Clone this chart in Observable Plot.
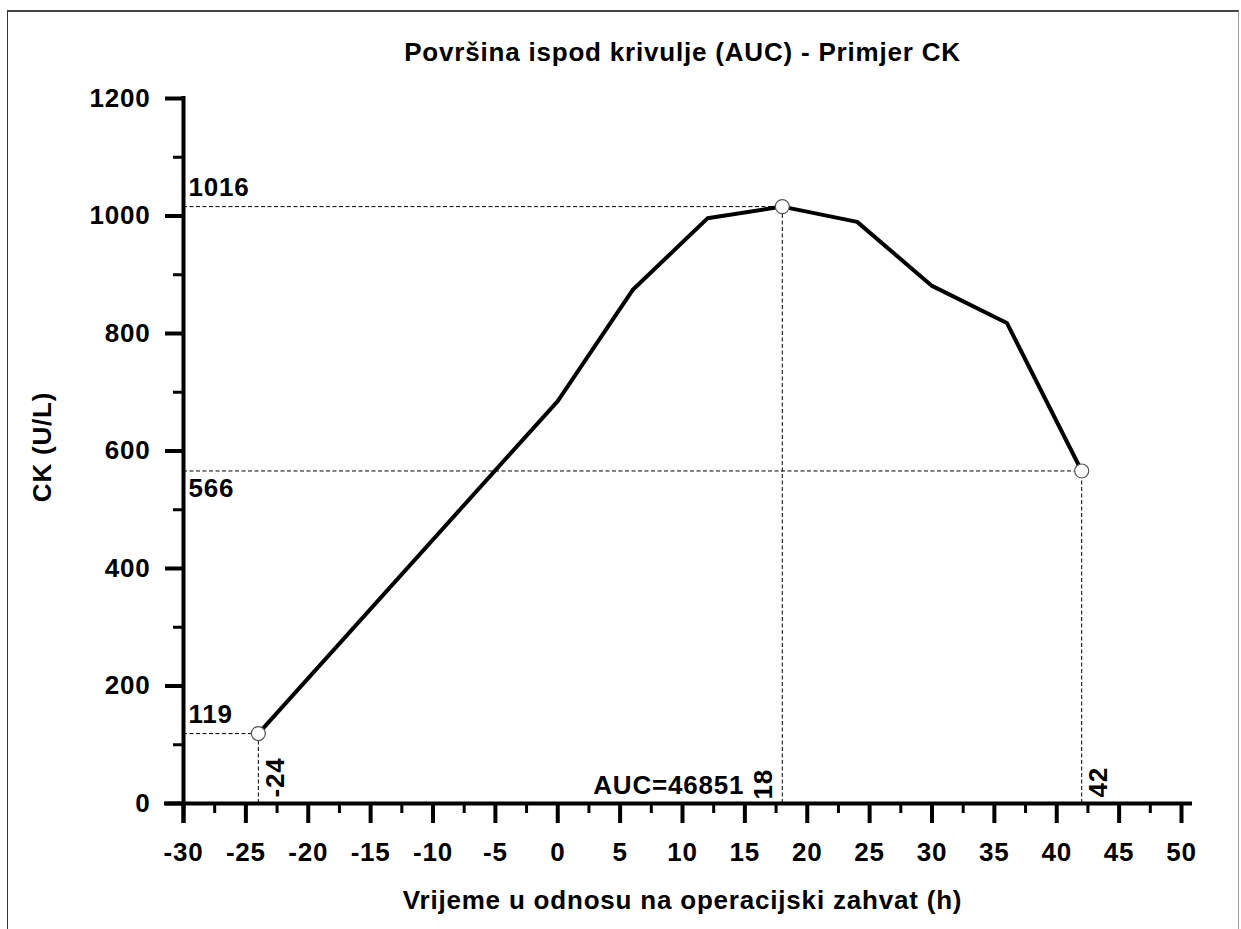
<!DOCTYPE html>
<html>
<head>
<meta charset="utf-8">
<script src="https://cdn.jsdelivr.net/npm/d3@7"></script>
<script src="https://cdn.jsdelivr.net/npm/@observablehq/plot@0.6"></script>
<style>
  html, body { margin: 0; padding: 0; background: #fff; width: 1241px; height: 929px; overflow: hidden; }
  #frame { position: absolute; left: 7px; top: 10px; width: 1232px; height: 1000px;
           border-top: 2px solid #444; border-left: 1px solid #333; border-right: 1px solid #999; box-sizing: border-box; }
  #chart { position: absolute; left: 0; top: 0; }
</style>
</head>
<body>
<div id="frame"></div>
<div id="chart"></div>
<script>
// ---- data ----
const times = [-24, 0, 6, 12, 18, 24, 30, 36, 42];
const ckValues = [119, 685, 874, 996, 1016, 990, 881, 818, 566];
const keyTimes = [-24, 18, 42];
const keyValues = [119, 1016, 566];
const keyTimeLabels = ["-24", "18", "42"];
const keyValueLabels = ["119", "1016", "566"];
const aucLabel = "AUC=46851";
const xMajorTicks = [-30, -25, -20, -15, -10, -5, 0, 5, 10, 15, 20, 25, 30, 35, 40, 45, 50];
const xMinorTicks = [-27.5, -22.5, -17.5, -12.5, -7.5, -2.5, 2.5, 7.5, 12.5, 17.5, 22.5, 27.5, 32.5, 37.5, 42.5, 47.5];
const yMajorTicks = [0, 200, 400, 600, 800, 1000, 1200];
const yMinorTicks = [100, 300, 500, 700, 900, 1100];
const titleText = "Površina ispod krivulje (AUC) - Primjer CK";
const xLabel = "Vrijeme u odnosu na operacijski zahvat (h)";
const yLabel = "CK (U/L)";

const series = times.map((t, i) => ({t, v: ckValues[i]}));
const keys = keyTimes.map((t, i) => ({t, v: keyValues[i], tl: keyTimeLabels[i], vl: keyValueLabels[i]}));

const dash = "4,2.5";
const plot = Plot.plot({
  width: 1241,
  height: 929,
  marginLeft: 183,
  marginRight: 60,
  marginTop: 98,
  marginBottom: 126,
  x: {domain: [-30, 50]},
  y: {domain: [0, 1200]},
  style: {
    fontFamily: "'Liberation Sans', Arial, sans-serif",
    fontSize: "26px",
    fontWeight: "bold",
    letterSpacing: "0.8px",
    background: "transparent",
    color: "#000",
    overflow: "visible"
  },
  marks: [
    // dashed reference lines
    Plot.ruleY(keys, {x1: -30, x2: "t", y: "v", stroke: "#000", strokeWidth: 1, strokeDasharray: dash}),
    Plot.ruleX(keys, {x: "t", y1: 0, y2: "v", stroke: "#000", strokeWidth: 1, strokeDasharray: dash}),
    // axes
    Plot.axisX(xMajorTicks, {tickSize: 20, tickPadding: 19, strokeWidth: 4, tickFormat: d => String(d), label: null}),
    Plot.axisX(xMinorTicks, {tickSize: 10, strokeWidth: 3, tickFormat: () => "", label: null}),
    Plot.axisY(yMajorTicks, {tickSize: 18, tickPadding: 15, strokeWidth: 4, tickFormat: d => String(d), label: null}),
    Plot.axisY(yMinorTicks, {tickSize: 10, strokeWidth: 3, tickFormat: () => "", label: null}),
    Plot.ruleX([-30], {y1: 1200, y2: 0, stroke: "#000", strokeWidth: 4, insetTop: -2, insetBottom: -20}),
    Plot.ruleY([0], {x1: -30, x2: 50, stroke: "#000", strokeWidth: 4, insetLeft: -19, insetRight: -11}),
    // curve
    Plot.line(series, {x: "t", y: "v", stroke: "#000", strokeWidth: 4}),
    Plot.dot(keys, {x: "t", y: "v", r: 7, fill: "#fff", stroke: "#555", strokeWidth: 1.2}),
    // value labels near y axis
    Plot.text(keys.filter(d => d.v !== 566), {x: -30, y: "v", text: "vl", textAnchor: "start", lineAnchor: "middle", dx: 5, dy: -19}),
    Plot.text(keys.filter(d => d.v === 566), {x: -30, y: "v", text: "vl", textAnchor: "start", lineAnchor: "middle", dx: 5, dy: 18}),
    // rotated time labels
    Plot.text(keys.filter(d => d.t !== 18), {x: "t", y: 0, text: "tl", rotate: -90, textAnchor: "start", lineAnchor: "middle", dx: 17, dy: -6}),
    Plot.text(keys.filter(d => d.t === 18), {x: "t", y: 0, text: "tl", rotate: -90, textAnchor: "start", lineAnchor: "middle", dx: -19, dy: -4}),
    // AUC label
    Plot.text([aucLabel], {x: 18, y: 0, text: d => d, textAnchor: "end", lineAnchor: "middle", dx: -38, dy: -18}),
    // title and axis labels
    Plot.text([titleText], {frameAnchor: "top", text: d => d, textAnchor: "middle", lineAnchor: "middle", dy: -46}),
    Plot.text([xLabel], {frameAnchor: "bottom", text: d => d, textAnchor: "middle", lineAnchor: "middle", dy: 97}),
    Plot.text([yLabel], {frameAnchor: "left", text: d => d, rotate: -90, textAnchor: "middle", lineAnchor: "middle", dx: -141, dy: -4})
  ]
});
document.getElementById("chart").appendChild(plot);
</script>
</body>
</html>
